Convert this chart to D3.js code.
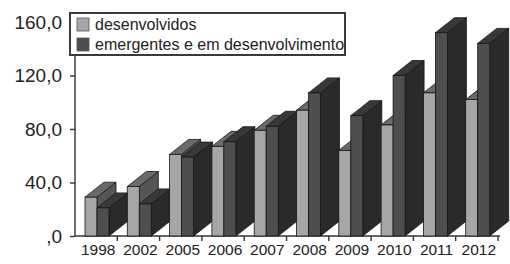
<!DOCTYPE html>
<html>
<head>
<meta charset="utf-8">
<script src="https://cdn.jsdelivr.net/npm/d3@7"></script>
<style>
  html, body { margin: 0; padding: 0; background: #fff; }
  svg { display: block; font-family: "Liberation Sans", Arial, sans-serif; }
</style>
</head>
<body>
<div id="chart"></div>
<script>
const years = ["1998", "2002", "2005", "2006", "2007", "2008", "2009", "2010", "2011", "2012"];
const desenvolvidos = [29, 37, 61, 67, 79, 94, 64, 83, 107, 102];
const emergentes = [21, 24, 59, 70.5, 82, 107, 90, 120, 152, 144];
const seriesNames = ["desenvolvidos", "emergentes e em desenvolvimento"];
const yTicks = [0, 40, 80, 120, 160];
const yTickLabels = [",0", "40,0", "80,0", "120,0", "160,0"];

const width = 510;
const height = 264;

// 3d look
const depthX = 19;
const depthY = -15;
const faces = [
    { front: "#a6a6a6", top: "#6a6a6a", side: "#555555" },
    { front: "#4e4e4e", top: "#383838", side: "#2a2a2a" }
];

const svg = d3.select("#chart")
    .append("svg")
    .attr("width", width)
    .attr("height", height);

// Scales
const x0 = d3.scaleBand()
    .domain(years)
    .range([75, 498]);

const x1 = d3.scaleBand()
    .domain(d3.range(seriesNames.length))
    .range([10, 34]);

const y = d3.scaleLinear()
    .domain([0, 160])
    .range([236, 22]);

// Axes
const yAxis = svg.append("g")
    .attr("transform", "translate(75,0)")
    .call(d3.axisLeft(y).tickValues(yTicks).tickSize(5).tickPadding(8)
        .tickFormat((d, i) => yTickLabels[i]));
yAxis.select(".domain").attr("d", `M0,${y(0)}V${y(160)}`);
yAxis.selectAll("path, line").attr("stroke", "#333").attr("stroke-width", 1.4);
yAxis.selectAll("text")
    .attr("font-size", 19)
    .attr("fill", "#222")
    .attr("font-family", "Liberation Sans, Arial, sans-serif");

const xAxis = svg.append("g")
    .attr("transform", `translate(0,${y(0)})`)
    .call(d3.axisBottom(x0).tickSize(0).tickPadding(8));
xAxis.select(".domain").attr("d", `M75,0H500`).attr("stroke", "#333").attr("stroke-width", 1.4);
xAxis.selectAll("text")
    .attr("dx", 2)
    .attr("font-size", 15.5)
    .attr("fill", "#222")
    .attr("font-family", "Liberation Sans, Arial, sans-serif");

// tick marks between categories
xAxis.selectAll(".sep")
    .data(years)
    .enter()
    .append("line")
    .attr("x1", d => x0(d) + x0.bandwidth())
    .attr("x2", d => x0(d) + x0.bandwidth())
    .attr("y1", 0)
    .attr("y2", 5)
    .attr("stroke", "#333")
    .attr("stroke-width", 1.4);

// Bars
const bars = [];
years.forEach((yr, i) => {
    [desenvolvidos[i], emergentes[i]].forEach((v, s) => {
        bars.push({ year: yr, s: s, value: v });
    });
});

const g = svg.append("g");

const bar = g.selectAll("g.bar")
    .data(bars)
    .enter()
    .append("g")
    .attr("class", "bar");

const w = x1.bandwidth();
const bx = d => x0(d.year) + x1(d.s);

bar.append("polygon")
    .attr("points", d => {
        const xl = bx(d), yt = y(d.value), yb = y(0);
        return [[xl + w, yt], [xl + w + depthX, yt + depthY], [xl + w + depthX, yb + depthY], [xl + w, yb]].join(" ");
    })
    .attr("fill", d => faces[d.s].side)
    .attr("stroke", "#151515")
    .attr("stroke-width", 0.8)
    .attr("stroke-linejoin", "round");

bar.append("polygon")
    .attr("points", d => {
        const xl = bx(d), yt = y(d.value);
        return [[xl, yt], [xl + depthX, yt + depthY], [xl + w + depthX, yt + depthY], [xl + w, yt]].join(" ");
    })
    .attr("fill", d => faces[d.s].top)
    .attr("stroke", "#151515")
    .attr("stroke-width", 0.8)
    .attr("stroke-linejoin", "round");

bar.append("rect")
    .attr("x", d => bx(d))
    .attr("y", d => y(d.value))
    .attr("width", w)
    .attr("height", d => y(0) - y(d.value))
    .attr("fill", d => faces[d.s].front)
    .attr("stroke", "#151515")
    .attr("stroke-width", 0.8);

// Legend
const legend = svg.append("g");
legend.append("rect")
    .attr("x", 70)
    .attr("y", 13)
    .attr("width", 275)
    .attr("height", 42)
    .attr("fill", "#fff")
    .attr("stroke", "#3a3a3a")
    .attr("stroke-width", 2);

const item = legend.selectAll("g.item")
    .data(seriesNames)
    .enter()
    .append("g")
    .attr("class", "item")
    .attr("transform", (d, i) => `translate(77,${18 + i * 20})`);

item.append("rect")
    .attr("width", 12)
    .attr("height", 13)
    .attr("fill", (d, i) => faces[i].front)
    .attr("stroke", "#555")
    .attr("stroke-width", 0.8);

item.append("text")
    .attr("x", 18)
    .attr("y", 12)
    .attr("font-size", 16)
    .attr("fill", "#222")
    .text(d => d);
</script>
</body>
</html>
